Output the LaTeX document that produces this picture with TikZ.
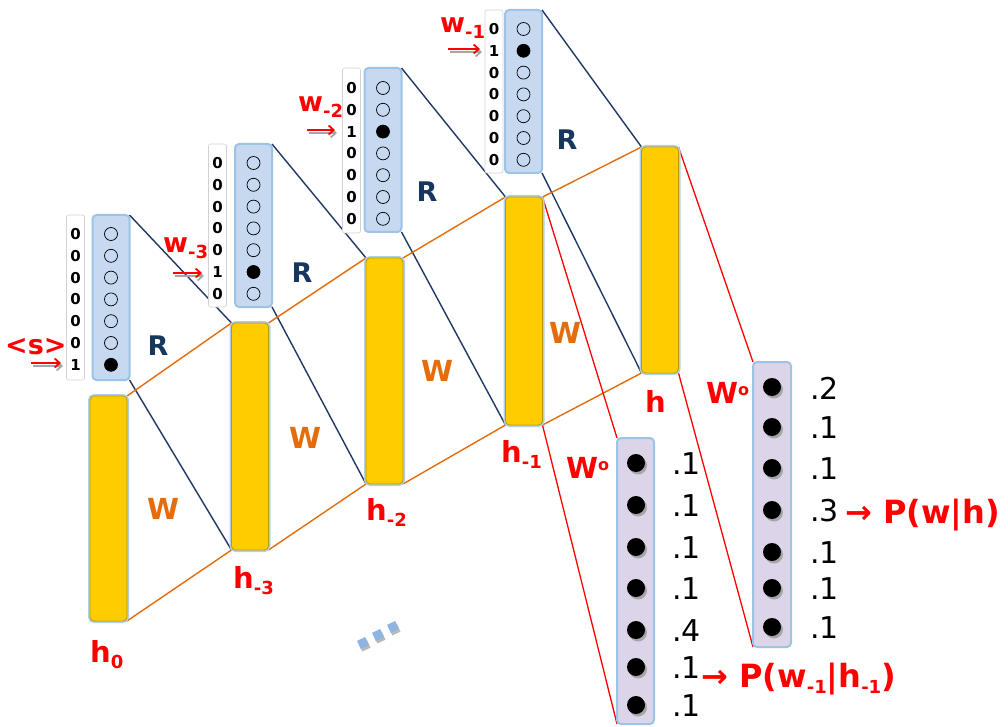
\documentclass[tikz,border=0pt]{standalone}
\usepackage{fontspec}
\setmainfont{DejaVu Sans}
\usetikzlibrary{arrows.meta}
\pgfdeclarelayer{bg}
\pgfsetlayers{bg,main}
\definecolor{navy}{HTML}{1F3864}
\definecolor{rnavy}{HTML}{17375E}
\definecolor{orng}{HTML}{E46C0A}
\definecolor{boxblue}{HTML}{C6D9F1}
\definecolor{glow}{HTML}{9DC3E6}
\definecolor{gold}{HTML}{FFCC00}
\definecolor{lav}{HTML}{DCD4E8}
\definecolor{dotblue}{HTML}{8DB4E2}
\newcommand{\lsub}[1]{\raisebox{-6pt}{\fontsize{18}{18}\selectfont #1}}
\tikzset{
  inbox/.style={draw=glow, line width=2pt, fill=boxblue, rounded corners=4pt,
    minimum width=37, inner sep=0, outer sep=0},
  hbox/.style={fill=gold, draw=gold!75!black, line width=0.8pt, rounded corners=4pt,
    minimum width=37, inner sep=0, outer sep=0,
    preaction={draw=glow!80, line width=4pt}},
  obox/.style={draw=glow, line width=2pt, fill=lav, rounded corners=4pt,
    minimum width=37, inner sep=0, outer sep=0},
  lblcol/.style={draw=gray!35, fill=white, rounded corners=2pt, line width=0.6pt,
    minimum width=18, inner sep=0},
  incirc/.style={circle, draw=black, line width=0.7pt, minimum size=13, inner sep=0},
  outcirc/.style={circle, fill=black, minimum size=18, inner sep=0},
  dig/.style={font=\fontsize{15}{15}\selectfont\bfseries, text=black, inner sep=0},
  rline/.style={navy, line width=1.4pt},
  wline/.style={orng, line width=1.4pt},
  oline/.style={red, line width=1.3pt},
  lbl/.style={text=red, font=\fontsize{29}{29}\selectfont\bfseries, inner sep=0},
  plbl/.style={text=red, font=\fontsize{32}{32}\selectfont\bfseries, inner sep=0},
  wlbl/.style={text=red, font=\fontsize{27}{27}\selectfont\bfseries, inner sep=0},
  Rlbl/.style={text=rnavy, font=\fontsize{27}{27}\selectfont\bfseries, inner sep=0},
  Wlbl/.style={text=orng, font=\fontsize{29}{29}\selectfont\bfseries, inner sep=0},
  num/.style={font=\fontsize{30}{30}\selectfont, inner sep=0, anchor=west},
  inarrow/.style={red, line width=1.8pt, -{Straight Barb[length=5pt,width=9pt]}},
  inshadow/.style={gray!70, line width=1.8pt, -{Straight Barb[length=5pt,width=9pt]}},
  sq/.style={fill=dotblue, minimum size=9, inner sep=0, rotate=25},
  sqshadow/.style={fill=gray!55, minimum size=9, inner sep=0, rotate=25}
}
\begin{document}
\begin{tikzpicture}[x=1pt,y=-1pt]
\useasboundingbox (0,0) rectangle (1008,727);

% input boxes
\node[inbox, minimum height=165] (x1) at (111,297.5) {};
\node[inbox, minimum height=163] (x2) at (253.5,225.5) {};
\node[inbox, minimum height=164] (x3) at (383,150) {};
\node[inbox, minimum height=163] (x4) at (523.5,91.5) {};

% hidden boxes
\node[hbox, minimum height=225] (h0) at (108.5,508.5) {};
\node[hbox, minimum height=227] (h3) at (250,436.5) {};
\node[hbox, minimum height=226] (h2) at (384.5,371) {};
\node[hbox, minimum height=228] (h1) at (524,311) {};
\node[hbox, minimum height=226] (hh) at (660,260) {};

% output boxes
\node[obox, minimum height=286] (o1) at (635.5,581) {};
\node[obox, minimum height=285, minimum width=38] (o2) at (772,504.5) {};

% connectors
\begin{pgfonlayer}{bg}
\draw[rline] (x1.north east) -- (h3.north west);
\draw[rline] (x1.south east) -- (h3.south west);
\draw[rline] (x2.north east) -- (h2.north west);
\draw[rline] (x2.south east) -- (h2.south west);
\draw[rline] (x3.north east) -- (h1.north west);
\draw[rline] (x3.south east) -- (h1.south west);
\draw[rline] (x4.north east) -- (hh.north west);
\draw[rline] (x4.south east) -- (hh.south west);
\draw[wline] (h0.north east) -- (h3.north west);
\draw[wline] (h0.south east) -- (h3.south west);
\draw[wline] (h3.north east) -- (h2.north west);
\draw[wline] (h3.south east) -- (h2.south west);
\draw[wline] (h2.north east) -- (h1.north west);
\draw[wline] (h2.south east) -- (h1.south west);
\draw[wline] (h1.north east) -- (hh.north west);
\draw[wline] (h1.south east) -- (hh.south west);
\draw[oline] (h1.north east) -- (o1.north west);
\draw[oline] (h1.south east) -- (o1.south west);
\draw[oline] (hh.north east) -- (o2.north west);
\draw[oline] (hh.south east) -- (o2.south west);
\end{pgfonlayer}

% label columns with digits
\node[lblcol, minimum height=165] (lc1) at (75.5,297.5) {};
\node[lblcol, minimum height=163] (lc2) at (217.5,225.5) {};
\node[lblcol, minimum height=165] (lc3) at (351.5,150.5) {};
\node[lblcol, minimum height=163] (lc4) at (494,91.5) {};
\foreach \d [count=\i from 0] in {0,0,0,0,0,0,1}
  \node[dig] (d1\i) at (75.5,{234+21.8*\i}) {\d};
\foreach \d [count=\i from 0] in {0,0,0,0,0,1,0}
  \node[dig] (d2\i) at (217.5,{163+21.8*\i}) {\d};
\foreach \d [count=\i from 0] in {0,0,1,0,0,0,0}
  \node[dig] (d3\i) at (351.5,{88+21.8*\i}) {\d};
\foreach \d [count=\i from 0] in {0,1,0,0,0,0,0}
  \node[dig] (d4\i) at (494,{29+21.8*\i}) {\d};

% circles in input boxes
\foreach \i in {0,...,5} \node[incirc] (c1\i) at (111,{234+21.8*\i}) {};
\node[incirc, fill=black] (c16) at (111,{234+21.8*6}) {};
\foreach \i in {0,...,4,6} \node[incirc] (c2\i) at (253.5,{163+21.8*\i}) {};
\node[incirc, fill=black] (c25) at (253.5,{163+21.8*5}) {};
\foreach \i in {0,1,3,4,5,6} \node[incirc] (c3\i) at (383,{88+21.8*\i}) {};
\node[incirc, fill=black] (c32) at (383,{88+21.8*2}) {};
\foreach \i in {0,2,3,4,5,6} \node[incirc] (c4\i) at (523.5,{29+21.8*\i}) {};
\node[incirc, fill=black] (c41) at (523.5,{29+21.8*1}) {};

% output circles and numbers
\foreach \y/\v [count=\i] in {463/.1,505/.1,547/.1,588/.1,630/.4,667/.1,705/.1}{
  \fill[gray!70] (638,\y+2.5) circle (9);
  \node[outcirc] (oa\i) at (636,\y) {};
  \node[num] (na\i) at (672,\y+1) {\v};
}
\foreach \y/\v [count=\i] in {387/.2,427/.1,468/.1,510/.3,552/.1,588/.1,627/.1}{
  \fill[gray!70] (774,\y+2.5) circle (9);
  \node[outcirc] (ob\i) at (772,\y) {};
  \node[num] (nb\i) at (810,\y+1) {\v};
}

% input arrows
\coordinate (sa1) at (31,363); \coordinate (sa2) at (61,363);
\coordinate (wa1) at (173,273); \coordinate (wa2) at (202,273);
\coordinate (va1) at (307,130); \coordinate (va2) at (335,130);
\coordinate (ua1) at (448,49);  \coordinate (ua2) at (480,49);
\foreach \a/\b in {sa1/sa2,wa1/wa2,va1/va2,ua1/ua2}{
  \draw[inshadow] ([shift={(2,3)}]\a) -- ([shift={(2,3)}]\b);
  \draw[inarrow] (\a) -- (\b);
}

% labels
\node[wlbl, anchor=base west] (ls) at (5,354) {<s>};
\node[wlbl, anchor=base west] (lw3) at (163,252) {w\lsub{-3}};
\node[wlbl, anchor=base west] (lw2) at (298,112) {w\lsub{-2}};
\node[wlbl, anchor=base west] (lw1) at (440,33) {w\lsub{-1}};

\node[lbl, anchor=base west] (th0) at (90,662) {h\lsub{0}};
\node[lbl, anchor=base west] (th3) at (233,588) {h\lsub{-3}};
\node[lbl, anchor=base west] (th2) at (366,520) {h\lsub{-2}};
\node[lbl, anchor=base west] (th1) at (501,462) {h\lsub{-1}};
\node[lbl, anchor=base west] (thh) at (645,412) {h};

\node[Rlbl] (r1) at (158,346) {R};
\node[Rlbl] (r2) at (302,273) {R};
\node[Rlbl] (r3) at (427,192) {R};
\node[Rlbl] (r4) at (567,140) {R};

\node[Wlbl] (w1) at (163,509) {W};
\node[Wlbl] (w2) at (305,438) {W};
\node[Wlbl] (w3) at (437,371) {W};
\node[Wlbl] (w4) at (565,333) {W};

\node[lbl, anchor=base west] (wo1) at (566,478) {W\raisebox{8pt}{\fontsize{16}{16}\selectfont o}};
\node[lbl, anchor=base west] (wo2) at (706,403) {W\raisebox{8pt}{\fontsize{16}{16}\selectfont o}};

\node[plbl, anchor=base west] (p1) at (701,687) {→ P(w\lsub{-1}|h\lsub{-1})};
\node[plbl, anchor=base west] (p2) at (845,523) {→ P(w|h)};

% ellipsis
\foreach \x/\y [count=\i] in {363/643,378/635,393/627}{
  \node[sqshadow] (es\i) at (\x+1.5,\y+2.5) {};
  \node[sq] (e\i) at (\x,\y) {};
}
\end{tikzpicture}
\end{document}
